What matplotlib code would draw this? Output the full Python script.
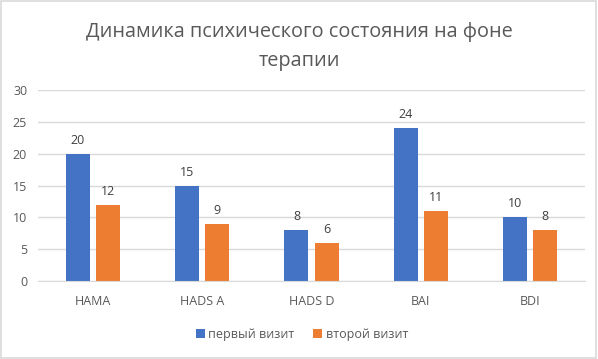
import matplotlib
matplotlib.use("Agg")
import matplotlib.pyplot as plt
from matplotlib.patches import Rectangle
import numpy as np

plt.rcParams['font.family'] = ['Open Sans', 'DejaVu Sans']

categories = ["HAMA", "HADS A", "HADS D", "BAI", "BDI"]
first_visit = [20, 15, 8, 24, 10]
second_visit = [12, 9, 6, 11, 8]
series_names = ["первый визит", "второй визит"]
title = "Динамика психического состояния на фоне\nтерапии"

blue = "#4472C4"
orange = "#ED7D31"
txt = "#595959"

fig = plt.figure(figsize=(5.98, 3.59), dpi=100)
fig.patch.set_facecolor("white")
fig.add_artist(Rectangle((0.002, 0.003), 0.995, 0.994, transform=fig.transFigure,
                         fill=False, edgecolor="#D9D9D9", linewidth=1.2))
ax = fig.add_axes([0.064, 0.217, 0.914, 0.532])

x = np.arange(len(categories))
w = 0.22
gap = 0.028
b1 = ax.bar(x - w/2 - gap, first_visit, w, color=blue, label=series_names[0])
b2 = ax.bar(x + w/2 + gap, second_visit, w, color=orange, label=series_names[1])
for bars in (b1, b2):
    for r in bars:
        ax.annotate(f"{int(r.get_height())}", (r.get_x() + r.get_width()/2, r.get_height()),
                    xytext=(0, 5), textcoords="offset points", ha="center", va="bottom",
                    fontsize=9, color="#404040")

ax.set_ylim(0, 30)
ax.set_yticks(range(0, 31, 5))
ax.set_xlim(-0.5, len(categories) - 0.5)
ax.set_xticks(x)
ax.set_xticklabels(categories)
ax.grid(axis="y", color="#D9D9D9", linewidth=1)
ax.set_axisbelow(True)
for s in ["top", "right", "left"]:
    ax.spines[s].set_visible(False)
ax.spines["bottom"].set_color("#D9D9D9")
ax.tick_params(axis="both", length=0, colors=txt, labelsize=9)
ax.tick_params(axis="x", pad=10)
ax.tick_params(axis="y", pad=8)

fig.text(0.5, 0.87, title, ha="center", va="center", fontsize=14.3, color=txt, linespacing=1.6)

leg = fig.legend(loc="center", bbox_to_anchor=(0.505, 0.068), ncol=2, frameon=False,
                 fontsize=9, handlelength=0.7, handleheight=0.7, handletextpad=0.3,
                 columnspacing=1.5)
for t in leg.get_texts():
    t.set_color(txt)

fig.savefig("out.png", dpi=100)
